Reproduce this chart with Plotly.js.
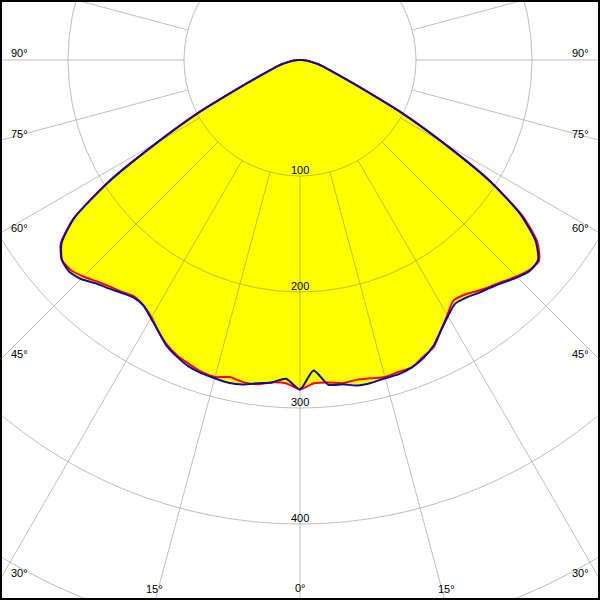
<!DOCTYPE html>
<html>
<head>
<meta charset="utf-8">
<script src="https://cdn.plot.ly/plotly-3.0.1.min.js"></script>
<style>
html,body{margin:0;padding:0;background:#fff;overflow:hidden;}
#wrap{position:relative;width:600px;height:600px;overflow:hidden;background:#fff;}
#plot{position:absolute;left:-396px;top:-636px;width:1392px;height:1392px;}
#frame{position:absolute;left:0;top:0;width:600px;height:600px;box-sizing:border-box;border:2px solid #000;pointer-events:none;}
</style>
</head>
<body>
<div id="wrap"><div id="plot"></div><div id="frame"></div></div>
<script>
// gamma angles (degrees from nadir)
const gammaDeg = [0,2.5,5,7.5,10,12.5,15,17.5,20,22.5,25,27.5,30,32.5,35,37.5,40,42.5,45,47.5,50,52.5,55,57.5,60,62.5,65,67.5,70,72.5,75,77.5,80,82.5,85,87.5,90];
// intensities (cd) - blue plane, left and right halves
const blueLeft  = [284,275,279,281,284,285,284,283,281,277,272,264,257,251,250,253,257,261,267,270,268,259,238,196,142,100,62,42,31,24,19,15,11,8,5,2,0];
const blueRight = [283,268,281,282,285,285,284,284,282,278,272,263,255,249,250,253,256,260,265,269,268,256,232,194,142,100,62,42,31,24,19,15,11,8,5,2,0];
// intensities (cd) - red plane
const redLeft   = [284,279,279,282,282,280,283,282,279,276,271,264,256,251,249,252,255,259,264,268,268,260,238,196,142,100,62,42,31,24,19,15,11,8,5,2,0];
const redRight  = [284,279,279,281,280,281,283,282,282,277,273,263,254,246,247,251,255,259,264,268,269,258,234,194,142,100,62,42,31,24,19,15,11,8,5,2,0];
// radial rings and labels
const ringValues = [100,200,300,400,500,600];
const radialLabels = [100,200,300,400];
const angleLabels = ['90°','75°','60°','45°','30°','15°','0°'];

function buildCurve(left, right){
  const theta = [], r = [];
  for(let i = gammaDeg.length-1; i >= 0; i--){ theta.push(-gammaDeg[i]); r.push(left[i]); }
  for(let i = 1; i < gammaDeg.length; i++){ theta.push(gammaDeg[i]); r.push(right[i]); }
  return {theta, r};
}
const blue = buildCurve(blueLeft, blueRight);
const red = buildCurve(redLeft, redRight);

const W = 1392, offL = -396, offT = -636;
const cy = 60, pxPerCd = 1.16;
function px2paper(px, py){ return {x:(px-offL)/W, y:1-(py-offT)/W}; }

const gridCol = 'rgba(128,128,128,0.5)';
const hiddenAng = {visible:false, rotation:270, direction:'counterclockwise'};
const hiddenRad = {visible:false, range:[0,600]};
const smooth = {shape:'spline', smoothing:0.6};

const traces = [
  {type:'scatterpolar', subplot:'polar', mode:'lines', r:blue.r, theta:blue.theta, fill:'toself', fillcolor:'#ffff00', line:Object.assign({width:0,color:'#ffff00'},smooth), hoverinfo:'skip'},
  {type:'scatterpolar', subplot:'polar', mode:'lines', r:red.r, theta:red.theta, fill:'toself', fillcolor:'#ffff00', line:Object.assign({width:0,color:'#ffff00'},smooth), hoverinfo:'skip'},
  {type:'scatterpolar', subplot:'polar2', mode:'markers', r:[ringValues[1]], theta:[0], marker:{size:1,opacity:0}, hoverinfo:'skip'},
  {type:'scatterpolar', subplot:'polar3', mode:'lines', r:red.r, theta:red.theta, line:Object.assign({width:2,color:'#ff0000'},smooth), hoverinfo:'skip'},
  {type:'scatterpolar', subplot:'polar3', mode:'lines', r:blue.r, theta:blue.theta, line:Object.assign({width:2,color:'#0a0aa8'},smooth), hoverinfo:'skip'}
];

const annFont = {family:'Liberation Sans, Arial, sans-serif', size:11, color:'#000'};
const annotations = [];
function addAnn(text, px, py, xanchor){
  const p = px2paper(px, py);
  annotations.push({xref:'paper', yref:'paper', x:p.x, y:p.y, text:text, showarrow:false, font:annFont, xanchor:xanchor||'center', yanchor:'middle'});
}
radialLabels.forEach(v => addAnn(String(v), 300, cy + v*pxPerCd - 6, 'center'));
const sideY = [53,134,228,354,573];
for(let i=0;i<5;i++){ addAnn(angleLabels[i], 9, sideY[i], 'left'); addAnn(angleLabels[i], 591, sideY[i], 'right'); }
addAnn(angleLabels[5], 154, 589, 'center');
addAnn(angleLabels[5], 446, 589, 'center');
addAnn(angleLabels[6], 300, 588, 'center');

const layout = {
  width:W, height:W, margin:{l:0,r:0,t:0,b:0},
  paper_bgcolor:'#fff', showlegend:false,
  polar:{domain:{x:[0,1],y:[0,1]}, bgcolor:'#fff', angularaxis:hiddenAng, radialaxis:hiddenRad},
  polar2:{domain:{x:[0,1],y:[0,1]}, bgcolor:'rgba(0,0,0,0)', hole:1/6,
    angularaxis:{rotation:270, direction:'counterclockwise', dtick:15, tick0:0, showgrid:true, gridcolor:gridCol, gridwidth:1, showline:true, linecolor:gridCol, linewidth:1, showticklabels:false, ticks:''},
    radialaxis:{range:[100,600], tickvals:ringValues, showgrid:true, gridcolor:gridCol, gridwidth:1, showline:false, showticklabels:false, ticks:''}},
  polar3:{domain:{x:[0,1],y:[0,1]}, bgcolor:'rgba(0,0,0,0)', angularaxis:hiddenAng, radialaxis:hiddenRad},
  annotations:annotations
};
Plotly.newPlot('plot', traces, layout, {staticPlot:true, displayModeBar:false});
</script>
</body>
</html>
